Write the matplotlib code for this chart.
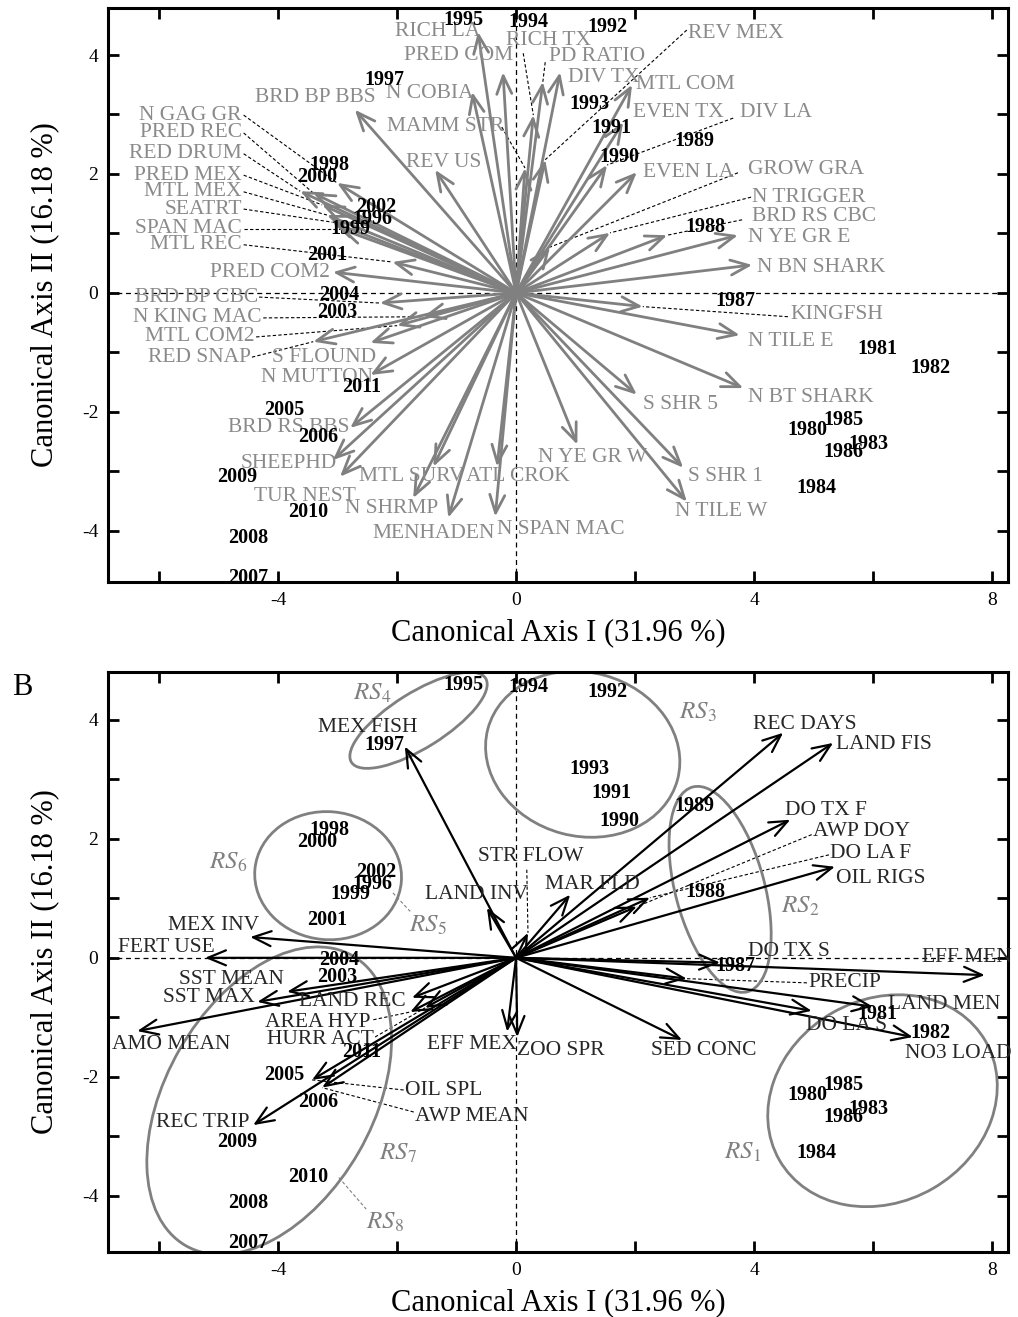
import matplotlib
matplotlib.use("Agg")
import matplotlib.pyplot as plt
from matplotlib.patches import Ellipse

plt.rcParams['font.family'] = 'Liberation Serif'
plt.rcParams['mathtext.fontset'] = 'stix'

# sample (year) scores, shared by both panels
years = list(range(1980, 2012))
year_x = [4.89, 6.07, 6.96, 5.92, 5.04, 5.50, 5.50, 3.68, 3.19, 2.99, 1.73, 1.61, 1.53, 1.23, 0.20, -0.89,
          -2.42, -2.22, -3.14, -2.79, -3.34, -3.18, -2.35, -3.01, -2.97, -3.90, -3.33, -4.50, -4.50, -4.69, -3.50, -2.59]
year_y = [-2.30, -0.94, -1.26, -2.54, -3.28, -2.13, -2.67, -0.13, 1.11, 2.55, 2.29, 2.77, 4.47, 3.18, 4.55, 4.59,
          1.24, 3.58, 2.15, 1.08, 1.95, 0.64, 1.45, -0.32, -0.03, -1.97, -2.42, -4.79, -4.12, -3.09, -3.68, -1.58]

# panel A: biological variables
a_names = ['RICH LA', 'PRED COM', 'N COBIA', 'BRD BP BBS', 'MAMM STR', 'REV US', 'N GAG GR', 'PRED REC',
           'RED DRUM', 'PRED MEX', 'MTL MEX', 'SEATRT', 'SPAN MAC', 'MTL REC', 'PRED COM2', 'BRD BP CBC',
           'N KING MAC', 'MTL COM2', 'RED SNAP', 'S FLOUND', 'N MUTTON', 'BRD RS BBS', 'SHEEPHD', 'TUR NEST',
           'N SHRMP', 'MTL SURV', 'MENHADEN', 'ATL CROK', 'N SPAN MAC', 'N YE GR W', 'S SHR 1', 'N TILE W',
           'S SHR 5', 'N BT SHARK', 'N TILE E', 'KINGFSH', 'N BN SHARK', 'N YE GR E', 'BRD RS CBC', 'N TRIGGER',
           'GROW GRA', 'EVEN LA', 'DIV LA', 'EVEN TX', 'MTL COM', 'REV MEX', 'DIV TX', 'PD RATIO', 'RICH TX']
a_x = [-0.64, -0.22, -0.74, -2.71, 0.15, -1.36, -3.01, -3.41,
       -3.63, -3.26, -3.18, -3.09, -2.96, -2.08, -3.08, -2.29,
       -1.56, -2.00, -3.41, -2.45, -2.45, -2.79, -3.08, -2.96,
       -1.73, -1.39, -1.14, -0.32, -0.35, 1.03, 2.81, 2.87,
       2.03, 3.82, 3.76, 2.13, 3.97, 3.73, 2.54, 1.58,
       0.57, 2.03, 1.53, 1.80, 1.95, 0.49, 0.74, 0.45, 0.29]
a_y = [4.39, 3.71, 3.38, 3.08, 2.10, 2.07, 1.85, 1.68,
       1.71, 1.48, 1.31, 1.19, 1.08, 0.52, 0.35, -0.17,
       -0.40, -0.55, -0.82, -0.84, -1.38, -2.27, -2.81, -3.09,
       -3.45, -2.92, -3.78, -2.92, -3.76, -2.55, -2.94, -3.51,
       -1.71, -1.60, -0.71, -0.23, 0.47, 0.97, 0.97, 1.01,
       0.77, 2.03, 2.15, 2.87, 3.50, 2.24, 3.71, 3.55, 2.99]

# panel B: environmental variables
b_names = ['MEX FISH', 'LAND INV', 'STR FLOW', 'MAR FLD', 'REC DAYS', 'LAND FIS', 'DO TX F', 'AWP DOY',
           'DO LA F', 'OIL RIGS', 'MEX INV', 'FERT USE', 'SST MEAN', 'SST MAX', 'AMO MEAN', 'LAND REC',
           'AREA HYP', 'HURR ACT', 'OIL SPL', 'AWP MEAN', 'REC TRIP', 'EFF MEX', 'ZOO SPR', 'SED CONC',
           'DO TX S', 'EFF MEN', 'PRECIP', 'LAND MEN', 'DO LA S', 'NO3 LOAD']
b_x = [-1.87, -0.49, 0.20, 0.91, 4.49, 5.33, 4.61, 2.03,
       2.25, 5.36, -4.47, -5.23, -3.85, -4.35, -6.37, -1.75,
       -1.78, -1.53, -3.43, -3.26, -4.42, -0.15, 0.02, 2.79,
       3.43, 7.88, 2.87, 6.00, 4.97, 6.67]
b_y = [3.55, 0.84, 0.42, 1.06, 3.78, 3.61, 2.32, 0.86,
       1.01, 1.53, 0.35, 0.00, -0.57, -0.74, -1.23, -0.67,
       -0.91, -0.84, -2.05, -2.18, -2.81, -1.24, -1.33, -1.38,
       -0.08, -0.29, -0.35, -0.82, -0.89, -1.33]

# label placement (x, y, ha)
a_lab = {
    'RICH LA': (-1.31, 4.40, 'center'), 'PRED COM': (-0.97, 4.00, 'center'), 'N COBIA': (-1.45, 3.36, 'center'),
    'BRD BP BBS': (-3.38, 3.29, 'center'), 'MAMM STR': (-1.18, 2.79, 'center'), 'REV US': (-1.21, 2.20, 'center'),
    'N GAG GR': (-4.61, 2.99, 'right'), 'PRED REC': (-4.61, 2.69, 'right'), 'RED DRUM': (-4.61, 2.34, 'right'),
    'PRED MEX': (-4.61, 1.98, 'right'), 'MTL MEX': (-4.61, 1.70, 'right'), 'SEATRT': (-4.61, 1.41, 'right'),
    'SPAN MAC': (-4.61, 1.08, 'right'), 'MTL REC': (-4.61, 0.81, 'right'), 'PRED COM2': (-3.13, 0.35, 'right'),
    'BRD BP CBC': (-4.34, -0.07, 'right'), 'N KING MAC': (-4.27, -0.42, 'right'), 'MTL COM2': (-4.39, -0.74, 'right'),
    'RED SNAP': (-4.46, -1.08, 'right'), 'S FLOUND': (-3.23, -1.08, 'center'), 'N MUTTON': (-3.34, -1.43, 'center'),
    'BRD RS BBS': (-3.82, -2.27, 'center'), 'SHEEPHD': (-3.82, -2.86, 'center'), 'TUR NEST': (-3.55, -3.43, 'center'),
    'N SHRMP': (-2.10, -3.63, 'center'), 'MTL SURV': (-1.76, -3.09, 'center'), 'MENHADEN': (-1.39, -4.05, 'center'),
    'ATL CROK': (0.03, -3.09, 'center'), 'N SPAN MAC': (0.76, -3.98, 'center'), 'N YE GR W': (1.28, -2.77, 'center'),
    'S SHR 1': (2.89, -3.09, 'left'), 'N TILE W': (3.45, -3.68, 'center'), 'S SHR 5': (2.13, -1.88, 'left'),
    'N BT SHARK': (3.90, -1.75, 'left'), 'N TILE E': (3.90, -0.82, 'left'), 'KINGFSH': (4.61, -0.37, 'left'),
    'N BN SHARK': (4.05, 0.42, 'left'), 'N YE GR E': (3.90, 0.94, 'left'), 'BRD RS CBC': (3.97, 1.29, 'left'),
    'N TRIGGER': (3.97, 1.61, 'left'), 'GROW GRA': (3.90, 2.07, 'left'), 'EVEN LA': (2.13, 2.02, 'left'),
    'DIV LA': (3.76, 3.03, 'left'), 'EVEN TX': (1.97, 3.04, 'left'), 'MTL COM': (2.02, 3.50, 'left'),
    'REV MEX': (2.89, 4.37, 'left'), 'DIV TX': (0.87, 3.63, 'left'), 'PD RATIO': (0.55, 3.97, 'left'),
    'RICH TX': (0.55, 4.25, 'center'),
}
a_lead = {
    'MAMM STR': (-0.24, 2.79), 'N GAG GR': (-4.58, 2.99), 'PRED REC': (-4.58, 2.69), 'RED DRUM': (-4.58, 2.34),
    'PRED MEX': (-4.58, 1.98), 'MTL MEX': (-4.58, 1.70), 'SEATRT': (-4.58, 1.41), 'SPAN MAC': (-4.58, 1.08),
    'MTL REC': (-4.58, 0.81), 'BRD BP CBC': (-4.32, -0.07), 'N KING MAC': (-4.25, -0.42),
    'MTL COM2': (-4.37, -0.74), 'RED SNAP': (-4.44, -1.08), 'KINGFSH': (4.57, -0.40), 'BRD RS CBC': (3.80, 1.23),
    'N TRIGGER': (3.95, 1.61), 'GROW GRA': (3.73, 2.02), 'DIV LA': (3.65, 2.94), 'REV MEX': (2.87, 4.42),
    'PD RATIO': (0.49, 3.88), 'RICH TX': (0.12, 4.03),
}
b_lab = {
    'MEX FISH': (-2.49, 3.87, 'center'), 'LAND INV': (-0.67, 1.06, 'center'), 'STR FLOW': (0.25, 1.71, 'center'),
    'MAR FLD': (1.28, 1.23, 'center'), 'REC DAYS': (4.86, 3.92, 'center'), 'LAND FIS': (5.38, 3.58, 'left'),
    'DO TX F': (5.21, 2.47, 'center'), 'AWP DOY': (4.99, 2.13, 'left'), 'DO LA F': (5.28, 1.76, 'left'),
    'OIL RIGS': (5.38, 1.34, 'left'), 'MEX INV': (-5.09, 0.55, 'center'), 'FERT USE': (-5.88, 0.18, 'center'),
    'SST MEAN': (-4.79, -0.37, 'center'), 'SST MAX': (-5.16, -0.67, 'center'), 'AMO MEAN': (-5.80, -1.45, 'center'),
    'LAND REC': (-2.76, -0.74, 'center'), 'AREA HYP': (-3.33, -1.08, 'center'), 'HURR ACT': (-3.29, -1.38, 'center'),
    'OIL SPL': (-1.87, -2.22, 'left'), 'AWP MEAN': (-1.70, -2.66, 'left'), 'REC TRIP': (-5.26, -2.77, 'center'),
    'EFF MEX': (-0.74, -1.45, 'center'), 'ZOO SPR': (0.76, -1.55, 'center'), 'SED CONC': (3.16, -1.55, 'center'),
    'DO TX S': (4.59, 0.10, 'center'), 'EFF MEN': (7.58, 0.00, 'center'), 'PRECIP': (4.91, -0.42, 'left'),
    'LAND MEN': (7.19, -0.79, 'center'), 'DO LA S': (5.56, -1.13, 'center'), 'NO3 LOAD': (7.43, -1.60, 'center'),
}
b_lead = {
    'STR FLOW': (0.18, 1.48), 'AWP DOY': (4.97, 2.07), 'DO LA F': (5.26, 1.73), 'AREA HYP': (-2.40, -1.04),
    'HURR ACT': (-2.37, -1.33), 'OIL SPL': (-1.89, -2.22), 'AWP MEAN': (-1.72, -2.59), 'PRECIP': (4.89, -0.42),
}

# groups of years (panel B): ellipse (center, width, height, angle) and label pos
rs_names = ['1', '2', '3', '4', '5', '6', '7', '8']
rs_ell = {'1': ((6.16, -2.40), 4.0, 3.4, 30), '2': ((3.43, 1.15), 3.56, 1.5, 105),
          '3': ((1.12, 3.42), 3.3, 2.75, -15), '4': ((-1.64, 3.99), 2.66, 0.93, 32),
          '6': ((-3.16, 1.38), 2.47, 2.15, -5), '7': ((-4.15, -2.40), 5.62, 3.47, 60)}
rs_lab = {'1': (3.80, -3.26), '2': (4.77, 0.87), '3': (3.06, 4.12), '4': (-2.42, 4.45),
          '5': (-1.48, 0.55), '6': (-4.84, 1.61), '7': (-1.98, -3.28), '8': (-2.20, -4.44)}
rs_lead = {'5': ((-2.07, 1.09), (-1.78, 0.78)), '8': ((-2.98, -3.69), (-2.52, -4.22))}

GRAY = '#808080'


def setup(ax, ylim):
    ax.set_xlim(-6.86, 8.27)
    ax.set_ylim(*ylim)
    ax.axhline(0, color='k', lw=0.9, dashes=(4, 3), zorder=1)
    ax.axvline(0, color='k', lw=0.9, dashes=(4, 3), zorder=1)
    ax.set_xticks([-6, -4, -2, 0, 2, 4, 6, 8])
    ax.set_xticklabels(['', '-4', '', '0', '', '4', '', '8'])
    ax.set_yticks(range(-4, 5))
    ax.set_yticklabels([str(v) if v % 2 == 0 else '' for v in range(-4, 5)])
    ax.tick_params(direction='in', length=8, width=2, top=True, right=True, labelsize=14, pad=7)
    for s in ax.spines.values():
        s.set_linewidth(2.2)
    ax.set_xlabel('Canonical Axis I (31.96 %)', fontsize=22, labelpad=7)
    ax.set_ylabel('Canonical Axis II (16.18 %)', fontsize=22, labelpad=16)


def biplot(ax, names, xs, ys, lab, lead, col, tcol, lw):
    for n, x, y in zip(names, xs, ys):
        ax.annotate('', xy=(x, y), xytext=(0, 0),
                    arrowprops=dict(arrowstyle='->,head_length=0.65,head_width=0.27', color=col, lw=lw,
                                    shrinkA=0, shrinkB=0, mutation_scale=20), zorder=3)
        lx, ly, ha = lab[n]
        ax.text(lx, ly, n, ha=ha, va='center', fontsize=15.5, color=tcol, zorder=4)
        if n in lead:
            sx, sy = lead[n]
            ax.plot([sx, x], [sy, y], color='k', lw=0.8, dashes=(3, 2), zorder=2)
    for yr, x, y in zip(years, year_x, year_y):
        ax.text(x, y, str(yr), ha='center', va='center', fontsize=14.5, fontweight='bold', color='k', zorder=5)


fig = plt.figure(figsize=(10.18, 13.17), dpi=100)
axA = fig.add_axes([0.1061, 0.5581, 0.8841, 0.4358])
axB = fig.add_axes([0.1061, 0.0494, 0.8841, 0.4403])

setup(axA, (-4.86, 4.79))
biplot(axA, a_names, a_x, a_y, a_lab, a_lead, GRAY, '#8a8a8a', 2.0)

setup(axB, (-4.94, 4.80))
biplot(axB, b_names, b_x, b_y, b_lab, b_lead, 'k', '#262626', 1.6)
for k in rs_names:
    if k in rs_ell:
        c, w, h, ang = rs_ell[k]
        axB.add_patch(Ellipse(c, w, h, angle=ang, fill=False, ec=GRAY, lw=2, zorder=2))
    lx, ly = rs_lab[k]
    axB.text(lx, ly, r'$\mathit{RS}_{\mathrm{%s}}$' % k, ha='center', va='center', fontsize=18,
             color=GRAY, zorder=4)
    if k in rs_lead:
        (x0, y0), (x1, y1) = rs_lead[k]
        axB.plot([x0, x1], [y0, y1], color=GRAY, lw=0.8, dashes=(3, 2), zorder=2)

fig.text(0.012, 0.478, 'B', fontsize=22, ha='left', va='center')

fig.savefig('out.png', dpi=100)
